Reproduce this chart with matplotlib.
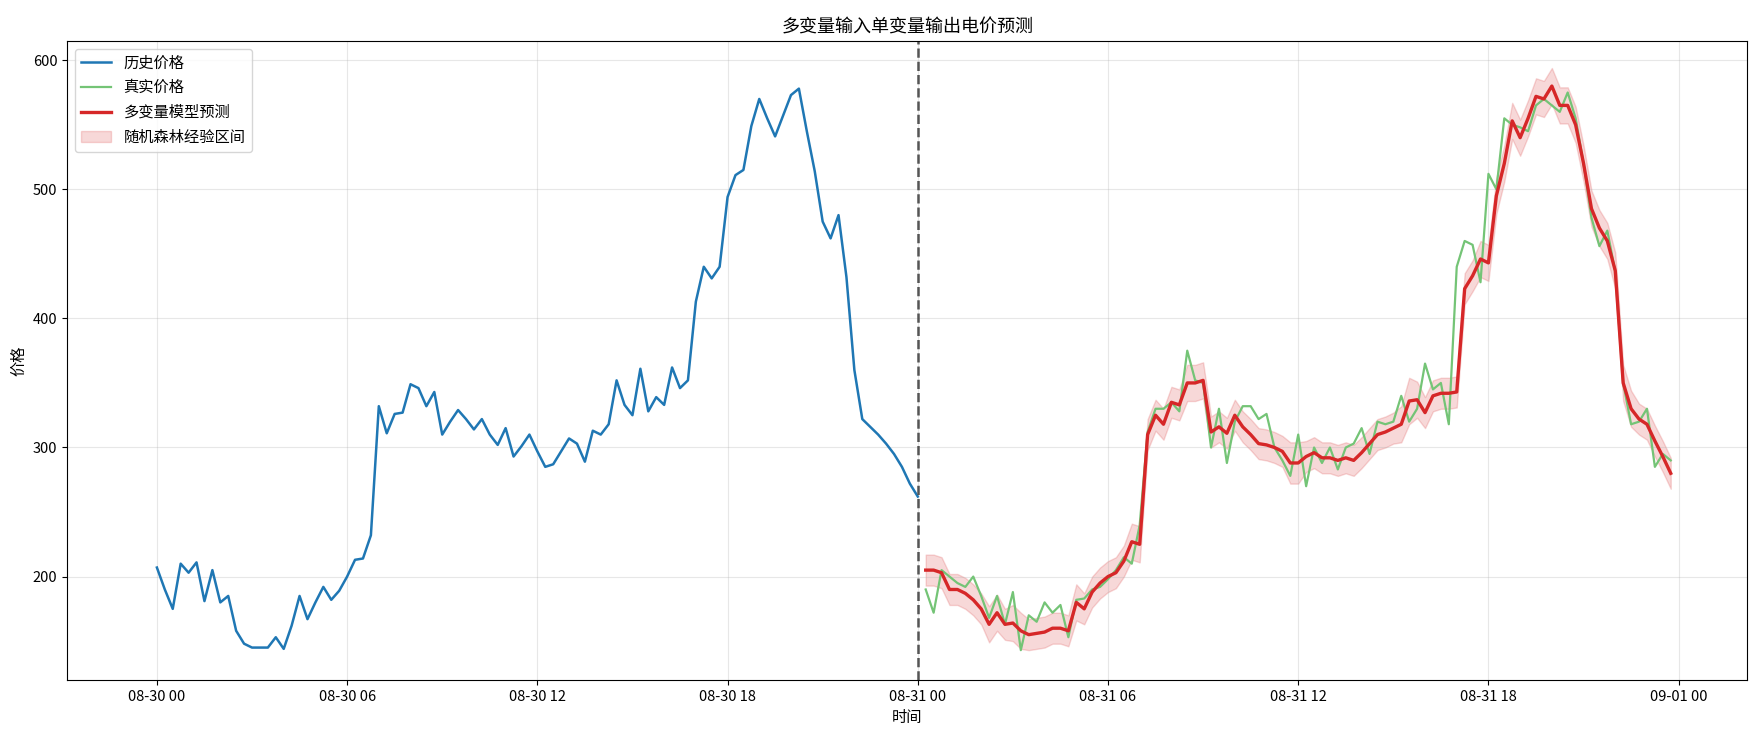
import numpy as np, pandas as pd
import matplotlib
matplotlib.use("Agg")
import matplotlib.pyplot as plt
plt.rcParams['font.family'] = ['Noto Sans CJK SC', 'DejaVu Sans']
plt.rcParams['axes.unicode_minus'] = False

hist = [207,190,175,210,203,211,181,205,180,185,158,148,145,145,145,153,144,162,185,167,
        180,192,182,189,200,213,214,232,332,311,326,327,349,346,332,343,310,320,329,322,
        314,322,310,302,315,293,301,310,297,285,287,297,307,303,289,313,310,318,352,333,
        325,361,328,339,333,362,346,352,413,440,431,440,494,511,515,549,570,555,541,557,
        573,578,545,514,475,462,480,432,360,322,316,310,303,295,285,272,262]
pred = [205,205,203,
        190,190,187,182, 175,163,172,163, 164,158,155,156, 157,160,160,158,
        180,175,188,195, 200,203,212,227, 225,310,325,318, 335,333,350,350,
        352,312,316,311, 325,316,310,303, 302,300,297,288, 288,293,296,292,
        292,290,292,290, 296,303,310,312, 315,318,336,337, 327,340,342,342,
        343,423,433,446, 443,495,520,553, 540,555,572,570, 580,565,565,550,
        520,485,470,460, 437,350,330,322, 318,305,293,280]
real = [190,172,205,
        200,195,192,200, 185,168,185,163, 188,143,170,165, 180,172,178,153,
        182,183,190,192, 198,205,215,210, 240,312,330,330, 335,328,375,352,
        350,300,330,288, 320,332,332,322, 326,300,290,278, 310,270,300,288,
        300,283,300,303, 315,295,320,318, 320,340,320,330, 365,345,350,318,
        440,460,457,428, 512,500,555,550, 548,545,565,570, 565,560,575,555,
        520,478,456,468, 436,350,318,320, 330,285,295,290]
halfw = [12,12,12, 12,12,12,12, 12,14,14,12, 14,14,12,12, 12,12,12,12,
         14,12,12,12, 12,12,12,14, 14,12,12,12, 12,12,14,14,
         14,12,12,12, 12,12,12,12, 12,12,12,16, 16,12,12,12,
         12,12,12,12, 12,12,12,12, 12,14,18,14, 12,12,12,12,
         12,12,12,14, 14,14,14,14, 14,14,14,14, 14,14,14,14,
         14,14,14,14, 14,14,14,12, 12,12,12,12]

t_hist = pd.date_range('2024-08-30 00:00', periods=len(hist), freq='15min')
t_fc = pd.date_range('2024-08-31 00:15', periods=len(pred), freq='15min')
p = np.array(pred); h = np.array(halfw)

fig, ax = plt.subplots(figsize=(17.65, 7.43), dpi=100)
ax.plot(t_hist, hist, color='#1f77b4', lw=1.8, label='历史价格')
ax.plot(t_fc, real, color='#74c476', lw=1.6, label='真实价格')
ax.plot(t_fc, pred, color='#d62728', lw=2.4, label='多变量模型预测')
ax.fill_between(t_fc, p-h, p+h, color='#d62728', alpha=0.18, label='随机森林经验区间')
ax.axvline(pd.Timestamp('2024-08-31 00:00'), color='#555555', ls='--', lw=1.8)
ax.xaxis.set_major_locator(matplotlib.dates.HourLocator(byhour=[0,6,12,18]))
ax.xaxis.set_major_formatter(matplotlib.dates.DateFormatter('%m-%d %H'))
ax.set_xlim(pd.Timestamp('2024-08-29 21:10'), pd.Timestamp('2024-09-01 02:10'))
ax.set_ylim(120, 615)
ax.set_yticks([200,300,400,500,600])
ax.grid(alpha=0.3)
ax.set_title('多变量输入单变量输出电价预测', fontsize=13)
ax.set_xlabel('时间', fontsize=11)
ax.set_ylabel('价格', fontsize=11)
ax.tick_params(labelsize=10.5)
ax.legend(loc='upper left', fontsize=11)
fig.subplots_adjust(left=0.038, right=0.99, top=0.945, bottom=0.085)
fig.savefig('out.png')
